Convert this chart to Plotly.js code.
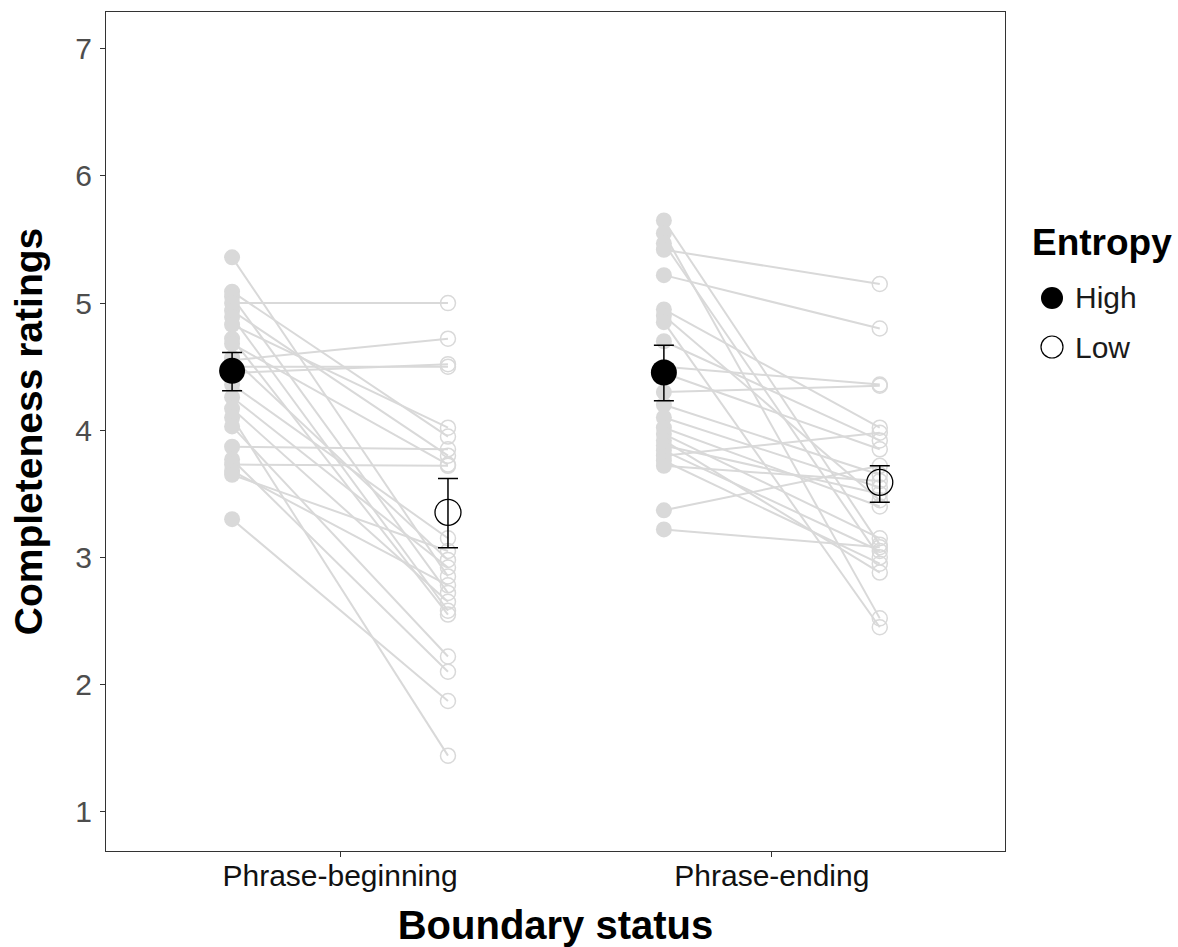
<!DOCTYPE html>
<html>
<head>
<meta charset="utf-8">
<script src="https://cdn.plot.ly/plotly-3.0.1.min.js"></script>
<style>html,body{margin:0;padding:0;background:#fff;}#chart{width:1178px;height:947px;}</style>
</head>
<body>
<div id="chart"></div>
<script>
// Categories
const categories = ["Phrase-beginning", "Phrase-ending"];
const groups = ["High", "Low"];
const legendTitle = "Entropy";

// Participant-level ratings (paired by index: High -> Low)
const begHigh = [5.36, 5.09, 5.05, 5.00, 4.94, 4.89, 4.83, 4.72, 4.68, 4.57, 4.55, 4.50, 4.45, 4.36, 4.26, 4.17, 4.10, 4.03, 3.87, 3.77, 3.73, 3.68, 3.65, 3.30];
const begLow  = [2.85, 3.95, 2.72, 5.00, 3.80, 2.58, 4.02, 2.55, 3.73, 2.98, 4.72, 4.50, 4.52, 3.15, 2.92, 2.65, 1.44, 2.22, 3.85, 2.10, 3.72, 2.78, 3.05, 1.87];
const endHigh = [5.65, 5.55, 5.47, 5.42, 5.22, 4.95, 4.90, 4.85, 4.70, 4.50, 4.45, 4.30, 4.20, 4.10, 4.02, 3.97, 3.92, 3.88, 3.84, 3.80, 3.76, 3.72, 3.37, 3.22];
const endLow  = [3.10, 2.52, 3.00, 5.15, 4.80, 4.02, 3.45, 2.45, 3.92, 4.36, 3.85, 4.35, 3.65, 3.55, 3.40, 3.15, 2.88, 3.50, 3.05, 3.98, 2.95, 3.60, 3.72, 3.08];

// Group means and error bar limits [beginning, ending]
const meanHigh  = [4.467, 4.454];
const upperHigh = [4.611, 4.668];
const lowerHigh = [4.310, 4.231];
const meanLow   = [3.354, 3.590];
const upperLow  = [3.621, 3.720];
const lowerLow  = [3.076, 3.433];

const yTicks = [1, 2, 3, 4, 5, 6, 7];

// dodge offsets
const dodge = {High: -0.25, Low: 0.25};
const catPos = [1, 2];

const grey = "#d9d9d9";
const FONT = "Liberation Sans, Arial, sans-serif";

// paired lines
const lx = [], ly = [];
[[begHigh, begLow], [endHigh, endLow]].forEach(([h, l], ci) => {
  for (let i = 0; i < h.length; i++) {
    lx.push(catPos[ci] + dodge.High, catPos[ci] + dodge.Low, null);
    ly.push(h[i], l[i], null);
  }
});

const traces = [];
traces.push({
  x: lx, y: ly, mode: "lines", type: "scatter",
  line: {color: grey, width: 2}, showlegend: false, hoverinfo: "skip"
});
traces.push({
  x: begHigh.map(() => catPos[0] + dodge.High).concat(endHigh.map(() => catPos[1] + dodge.High)),
  y: begHigh.concat(endHigh), mode: "markers", type: "scatter",
  marker: {symbol: "circle", size: 16, color: grey}, showlegend: false
});
traces.push({
  x: begLow.map(() => catPos[0] + dodge.Low).concat(endLow.map(() => catPos[1] + dodge.Low)),
  y: begLow.concat(endLow), mode: "markers", type: "scatter",
  marker: {symbol: "circle-open", size: 15, color: grey, line: {width: 1.5, color: grey}}, showlegend: false
});

traces.push({
  x: catPos.map(p => p + dodge.High), y: meanHigh, mode: "markers", type: "scatter",
  name: groups[0], showlegend: false,
  marker: {symbol: "circle", size: 26, color: "#000"},
  error_y: {type: "data", symmetric: false,
    array: upperHigh.map((u, i) => u - meanHigh[i]),
    arrayminus: lowerHigh.map((l, i) => meanHigh[i] - l),
    color: "#000", thickness: 1.5, width: 10}
});
traces.push({
  x: catPos.map(p => p + dodge.Low), y: meanLow, mode: "markers", type: "scatter",
  name: groups[1], showlegend: false,
  marker: {symbol: "circle-open", size: 26, color: "#000", line: {width: 1.3, color: "#000"}},
  error_y: {type: "data", symmetric: false,
    array: upperLow.map((u, i) => u - meanLow[i]),
    arrayminus: lowerLow.map((l, i) => meanLow[i] - l),
    color: "#000", thickness: 1.5, width: 10}
});

// Manual legend (paper coordinates derived from plot box 106..1005 x 12..851)
const PL = 106, PW = 899, PB = 851, PH = 839;
const px = v => (v - PL) / PW;
const py = v => (PB - v) / PH;
const legRows = [298, 347];
const legX = 1052, legR = 11;
const shapes = groups.map((g, i) => ({
  type: "circle", xref: "paper", yref: "paper",
  x0: px(legX - legR), x1: px(legX + legR),
  y0: py(legRows[i] + legR), y1: py(legRows[i] - legR),
  fillcolor: i === 0 ? "#000" : "#fff",
  line: {color: "#000", width: i === 0 ? 0 : 1.2}
}));
const annotations = [{
  text: "<b>" + legendTitle + "</b>", xref: "paper", yref: "paper",
  x: px(1030), y: py(242), xanchor: "left", yanchor: "middle", showarrow: false,
  font: {size: 37, color: "#000", family: FONT}
}].concat(groups.map((g, i) => ({
  text: g, xref: "paper", yref: "paper",
  x: px(1073), y: py(legRows[i]), xanchor: "left", yanchor: "middle", showarrow: false,
  font: {size: 30, color: "#1a1a1a", family: FONT}
})));

const layout = {
  width: 1178, height: 947,
  margin: {l: 106, r: 173, t: 12, b: 96},
  paper_bgcolor: "#fff", plot_bgcolor: "#fff",
  font: {family: FONT},
  showlegend: false,
  xaxis: {
    range: [0.458, 2.54], tickvals: catPos, ticktext: categories,
    showgrid: false, zeroline: false, showline: true, mirror: true,
    linecolor: "#333", linewidth: 1, ticks: "outside", ticklen: 5, tickcolor: "#333",
    ticklabelstandoff: -7,
    tickfont: {size: 30, color: "#111", family: FONT},
    title: {text: "<b>Boundary status</b>", font: {size: 40, color: "#000", family: FONT}, standoff: 19}
  },
  yaxis: {
    range: [0.69, 7.29], tickvals: yTicks,
    showgrid: false, zeroline: false, showline: true, mirror: true,
    linecolor: "#333", linewidth: 1, ticks: "outside", ticklen: 5, tickcolor: "#333",
    ticklabelstandoff: 2,
    tickfont: {size: 30, color: "#4d4d4d", family: FONT},
    title: {text: "<b>Completeness ratings</b>", font: {size: 39, color: "#000", family: FONT}, standoff: 20}
  },
  shapes: shapes,
  annotations: annotations
};

Plotly.newPlot("chart", traces, layout, {displayModeBar: false, staticPlot: true});
</script>
</body>
</html>
